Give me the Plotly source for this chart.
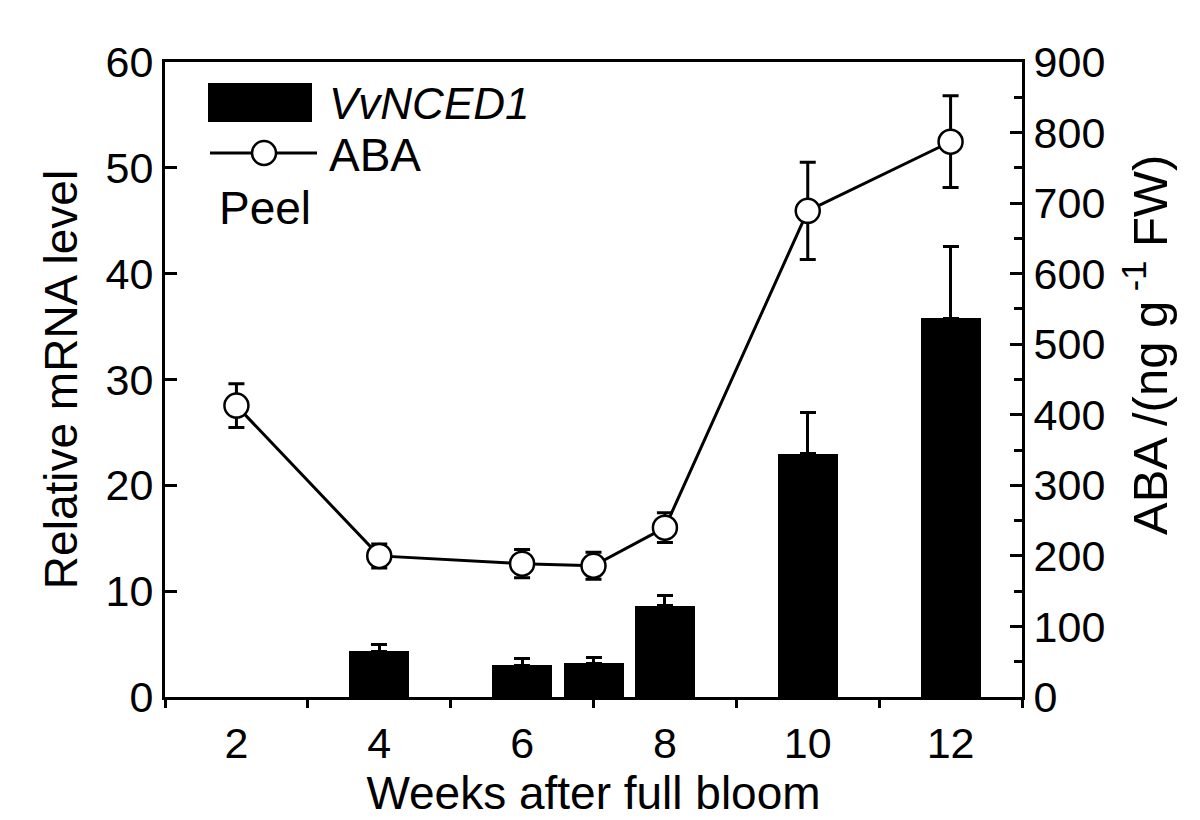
import plotly.graph_objects as go

# ---- data ----
weeks = [2, 4, 6, 7, 8, 10, 12]
mrna = [None, 4.3, 3.0, 3.2, 8.6, 23.0, 35.8]
mrna_err = [None, 0.7, 0.6, 0.5, 1.0, 3.9, 6.8]
aba = [413, 200, 189, 186, 240, 689, 787]
aba_err = [31, 17, 20, 19, 21, 69, 65]
x_labels = ["2", "4", "6", "8", "10", "12"]
x_label_vals = [2, 4, 6, 8, 10, 12]
x_minor_vals = [1, 3, 5, 7, 9, 11, 13]

FONT = "Liberation Sans, Arial, sans-serif"

fig = go.Figure()
fig.add_trace(go.Bar(
    x=weeks, y=mrna, width=0.84,
    marker=dict(color="black", line=dict(width=0)),
    error_y=dict(type="data", symmetric=False, array=mrna_err,
                 arrayminus=[0] * len(weeks), color="black",
                 thickness=3, width=8),
    name="VvNCED1", showlegend=False,
))
fig.add_trace(go.Scatter(
    x=weeks, y=aba, yaxis="y2", mode="lines+markers",
    line=dict(color="black", width=3),
    marker=dict(symbol="circle", size=24, color="white",
                line=dict(color="black", width=2.5)),
    error_y=dict(type="data", array=aba_err, color="black",
                 thickness=3, width=8),
    name="ABA", showlegend=False,
))

# page offset of the plot (body margin 8px)
OFF = 8
FW_, FH_ = 1192, 812
PL, PR, PT, PB = 165, 1022, 62, 697   # plot area in page pixels
L = PL - OFF
R = FW_ + OFF - PR
T = PT - OFF
B = FH_ + OFF - PB
W = PR - PL
H = PB - PT

def px(x):
    return (x - PL) / W

def py(y):
    return (PB - y) / H

shapes = [
    dict(type="rect", xref="paper", yref="paper", x0=px(208), x1=px(312),
         y0=py(122), y1=py(83), fillcolor="black", line=dict(width=0)),
    dict(type="line", xref="paper", yref="paper", x0=px(210), x1=px(317),
         y0=py(153), y1=py(153), line=dict(color="black", width=3)),
    dict(type="circle", xref="paper", yref="paper", x0=px(252), x1=px(276),
         y0=py(165), y1=py(141), fillcolor="white",
         line=dict(color="black", width=2.5)),
]
annotations = [
    dict(text="<i>VvNCED1</i>", xref="paper", yref="paper", x=px(327), y=py(103),
         xanchor="left", yanchor="middle", showarrow=False,
         font=dict(size=44, family=FONT, color="black")),
    dict(text="ABA", xref="paper", yref="paper", x=px(327), y=py(155),
         xanchor="left", yanchor="middle", showarrow=False,
         font=dict(size=46, family=FONT, color="black")),
    dict(text="Peel", xref="paper", yref="paper", x=px(217), y=py(208),
         xanchor="left", yanchor="middle", showarrow=False,
         font=dict(size=46, family=FONT, color="black")),
    # right axis title
    dict(text="ABA /(ng g<sup> -1</sup> FW)", xref="paper", yref="paper",
         x=px(1146), y=py(345), xanchor="center", yanchor="middle",
         textangle=-90, showarrow=False,
         font=dict(size=49, family=FONT, color="black")),
]

fig.update_layout(
    width=FW_, height=FH_,
    margin=dict(l=L, r=R, t=T, b=B),
    paper_bgcolor="white", plot_bgcolor="white",
    font=dict(family=FONT, color="black", size=43),
    xaxis=dict(
        range=[1, 13], tickmode="array", tickvals=x_label_vals, ticktext=x_labels,
        ticks="", showline=True, linecolor="black", linewidth=3, mirror=True,
        showgrid=False, zeroline=False, ticklabelstandoff=6,
        minor=dict(tickmode="array", tickvals=x_minor_vals, ticks="outside",
                   ticklen=8, tickwidth=3, tickcolor="black"),
        title=dict(text="Weeks after full bloom", font=dict(size=46), standoff=6),
        tickfont=dict(size=43),
    ),
    yaxis=dict(
        range=[0, 60], dtick=10, ticks="inside", ticklen=12, tickwidth=3,
        tickcolor="black", showline=True, linecolor="black", linewidth=3,
        showgrid=False, zeroline=False,
        title=dict(text="Relative mRNA level", font=dict(size=46), standoff=14),
        tickfont=dict(size=43),
    ),
    yaxis2=dict(
        range=[0, 900], dtick=100, overlaying="y", side="right",
        ticks="inside", ticklen=12, tickwidth=3, tickcolor="black",
        showline=True, linecolor="black", linewidth=3,
        showgrid=False, zeroline=False,
        minor=dict(dtick=50, ticks="inside", ticklen=8, tickwidth=3,
                   tickcolor="black"),
        tickfont=dict(size=43),
    ),
    shapes=shapes, annotations=annotations,
    bargap=0,
)

fig.write_html("out.html")
